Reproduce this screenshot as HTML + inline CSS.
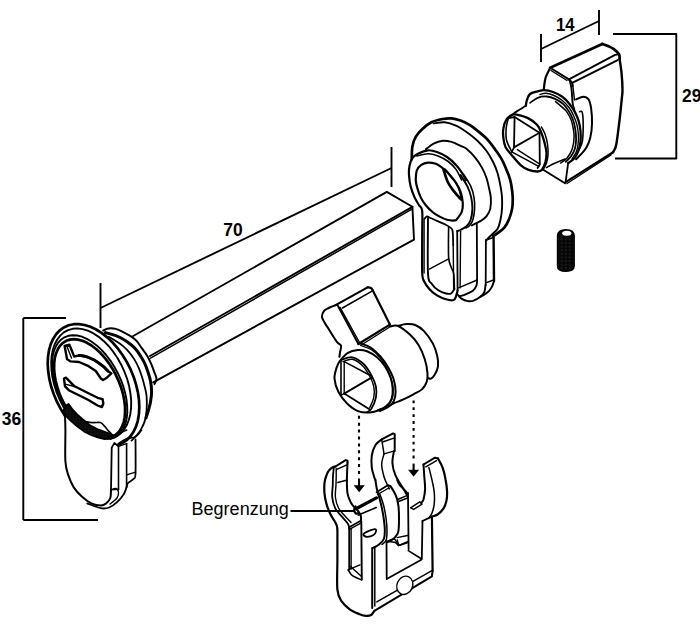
<!DOCTYPE html>
<html><head><meta charset="utf-8"><style>
html,body{margin:0;padding:0;background:#fff;width:700px;height:625px;overflow:hidden}
svg{display:block}
text{font-family:"Liberation Sans",sans-serif;fill:#000}
</style></head><body>
<svg width="700" height="625" viewBox="0 0 700 625">
<g fill="none" stroke="#000" stroke-linecap="round" stroke-linejoin="round">
<g stroke-width="1.3" stroke-linecap="butt">
<path d="M541,34 L541,62" stroke-width="1.9" fill="none"/>
<path d="M599,10 L599,35" stroke-width="1.9" fill="none"/>
<path d="M541,49 L599,21" stroke-width="1.9" fill="none"/>
<path d="M613,34 L676.3,34 L676.3,158.5 L615,158.5" stroke-width="1.9" fill="none"/>
<path d="M100.5,283 L100.5,328" stroke-width="1.9" fill="none"/>
<path d="M391.5,147 L391.5,187" stroke-width="1.9" fill="none"/>
<path d="M100.5,308 L391.5,168" stroke-width="1.9" fill="none"/>
<path d="M23.3,318 L66,318" stroke-width="1.9" fill="none"/>
<path d="M23.3,318 L23.3,520" stroke-width="1.9" fill="none"/>
<path d="M23.3,520 L98,520" stroke-width="1.9" fill="none"/>
<path d="M290.5,510.9 L354.5,510.9" stroke-width="2" fill="none"/>
</g>
<g stroke="none">
<text transform="translate(556,31) scale(0.93 1)" font-size="18" font-weight="bold">14</text>
<text transform="translate(682,101.6) scale(0.97 1)" font-size="18" font-weight="bold">29</text>
<text transform="translate(223.3,236) scale(0.97 1)" font-size="18" font-weight="bold">70</text>
<text transform="translate(1.8,425.3) scale(0.97 1)" font-size="18" font-weight="bold">36</text>
<text x="191.6" y="515" font-size="18">Begrenzung</text>
</g>
<path d="M133.2,336 L386.8,191.9 L412.4,206.8 L150,356" stroke-width="1.9" fill="none"/>
<path d="M150.5,358.2 L412.4,208.9" stroke-width="1.5" fill="none"/>
<path d="M412.4,206.8 L414,239.6 L153.2,382.3" stroke-width="1.9" fill="none"/>
<path d="M103.3,330.5 C104.2,330.1 106.4,328.7 108.5,328.4 C110.6,328.1 113.2,328.2 115.8,328.9 C118.4,329.6 121.5,331.3 124.1,332.6 C126.7,333.9 129.3,335.3 131.4,336.7 C133.5,338.1 134.9,339 136.6,340.9 C138.3,342.8 140.1,345.8 141.8,348.2 C143.5,350.6 145.4,352.8 147,355.4 C148.6,358 150,361 151.2,363.8 C152.4,366.6 153.4,369.6 154.3,372.1 C155.2,374.6 156.5,377 156.5,379 C156.5,381 154.8,383.2 154.5,384" stroke-width="2" fill="none"/>
<path d="M105.4,332.6 C107.1,333.1 112.7,334.5 115.8,335.7 C118.9,336.9 121.5,338.2 124.1,339.8 C126.7,341.4 129.3,343.3 131.4,345 C133.5,346.7 135,348.3 136.6,350.2 C138.2,352.1 139.4,354.2 140.8,356.5 C142.2,358.8 143.7,361.2 144.9,363.8 C146.1,366.4 147.1,369.2 148,372.1 C148.9,375 149.9,377.7 150.5,381 C151.1,384.3 151.6,388.5 151.6,392 C151.6,395.5 151,399 150.5,402 C150,405 149.2,407.3 148.5,410 C147.8,412.7 146.4,416.7 146,418" stroke-width="3" fill="none"/>
<path d="M108.5,336.7 C109.7,337.4 113.4,339.3 115.8,340.9 C118.2,342.5 120.8,344.2 123.1,346.1 C125.3,348 127.4,350.1 129.3,352.3 C131.2,354.6 132.9,357 134.5,359.6 C136.1,362.2 137.5,365.1 138.7,367.9 C139.9,370.7 140.8,373.2 141.8,376.2 C142.8,379.2 143.7,382.7 144.5,386 C145.3,389.3 146.2,391.9 146.6,396 C146.9,400.1 146.9,406.1 146.6,410.4 C146.2,414.7 145.6,418.5 144.5,421.9 C143.4,425.3 141.6,428.2 140.2,430.6 C138.8,433 137.2,434.6 135.8,436.3 C134.4,438 132.2,439.9 131.5,440.6" stroke-width="1.8" fill="none"/>
<path d="M65.1,416 L60.8,409.1 L57,401.9 L53.8,394.3 L51.2,386.7 L49.3,378.9 L48.2,371.3 L47.7,364 L48,356.9 L49,350.3 L50.7,344.2 L53.1,338.9 L56.1,334.2 L59.8,330.3 L63.9,327.4 L68.6,325.3 L73.7,324.2 L79,324.1 L84.6,325 L90.4,326.8 L96.2,329.5 L101.9,333.1 L107.5,337.6 L112.9,342.8 L118,348.7 L122.7,355.2 L126.9,362.1 L130.6,369.4 L133.7,377 L136.1,384.7 L137.9,392.4 L139,400 L139.3,407.3 L138.9,414.3 L137.8,420.8 L136,426.7 L133.4,432 L130.3,436.5 L126.6,440.2 L122.3,443 L117.6,444.9" stroke-width="2.7" fill="none"/>
<path d="M71.3,418.5 L66.9,412.5 L62.9,405.9 L59.4,399 L56.4,391.8 L54.1,384.4 L52.4,377.1 L51.5,369.8 L51.2,362.8 L51.6,356.2 L52.8,350 L54.6,344.5 L57.1,339.7 L60.2,335.6 L63.8,332.4 L68,330.1 L72.5,328.8 L77.4,328.4 L82.5,329.1 L87.8,330.7 L93.1,333.2 L98.4,336.6 L103.6,340.9 L108.6,346 L113.2,351.7 L117.5,358 L121.2,364.7 L124.5,371.8 L127.2,379.1 L129.2,386.5 L130.5,393.8 L131.2,400.9 L131.1,407.8 L130.3,414.2 L128.8,420 L126.7,425.3 L123.9,429.7 L120.6,433.4 L116.7,436.2 L112.3,438 L107.6,438.9" stroke-width="1.9" fill="none"/>
<path d="M74.1,420.5 L69.7,414.9 L65.7,408.9 L62.1,402.5 L59,395.8 L56.4,389 L54.4,382.1 L53,375.4 L52.2,368.8 L52.1,362.6 L52.6,356.8 L53.8,351.5 L55.6,346.8 L58,342.9 L61,339.7 L64.4,337.3 L68.3,335.8 L72.6,335.2 L77.1,335.5 L81.9,336.7 L86.8,338.8 L91.7,341.7 L96.7,345.4 L101.5,349.9 L106.1,355 L110.4,360.6 L114.3,366.7 L117.8,373.2 L120.9,379.9 L123.4,386.7 L125.3,393.6 L126.6,400.3 L127.2,406.8 L127.3,413 L126.6,418.7 L125.3,423.9 L123.4,428.4 L120.9,432.3 L117.9,435.3 L114.4,437.6 L110.4,438.9" stroke-width="1.9" fill="none"/>
<path d="M72.8,417.3 L68.9,411.9 L65.4,406.1 L62.2,400 L59.5,393.7 L57.4,387.4 L55.7,381 L54.6,374.8 L54.1,368.8 L54.2,363.2 L54.8,358 L56.1,353.2 L57.9,349.1 L60.2,345.6 L63,342.8 L66.2,340.8 L69.9,339.6 L73.8,339.2 L78,339.6 L82.4,340.8 L87,342.8 L91.5,345.5 L96.1,349 L100.5,353.1 L104.8,357.9 L108.8,363.1 L112.4,368.7 L115.7,374.7 L118.6,380.9 L121,387.2 L122.9,393.6 L124.2,399.9 L125,406 L125.1,411.8 L124.7,417.2 L123.7,422.1 L122.1,426.5 L120,430.3 L117.4,433.3 L114.3,435.7 L110.9,437.2" stroke-width="2.7" fill="none"/>
<path d="M64.6,345.8 L69.4,344.6 L74.2,356.6 L79,355.4 L86.2,356.6 L94.6,360.2 L103,366.2 L107.8,371 L111.4,373.4 L106.5,378 L103,380 L100.6,378.2 L95.8,371 L88.6,366.2 L79,362 L70.6,361.4 L67,359Z" stroke-width="2.4" fill="none"/>
<path d="M67,346.5 L71.5,358" stroke-width="1.4" fill="none"/>
<path d="M79,355.4 C80.2,355.6 83.6,355.8 86.2,356.6 C88.8,357.4 91.8,358.6 94.6,360.2 C97.4,361.8 100.8,364.4 103,366.2 C105.2,368 107,370.2 107.8,371" stroke-width="3" fill="none"/>
<path d="M64,378.6 L65.9,377.7 L74.6,386.3 L88,393 L97.6,397.8 L102.6,399.2 L103.3,403.5 L101.9,407.1 L97.6,405.5 L88,399.8 L78.4,395 L68.8,390.2 L65,386.3Z" stroke-width="2.4" fill="none"/>
<path d="M66,384.4 L74.6,386.5" stroke-width="1.4" fill="none"/>
<defs><pattern id="band" width="3" height="3" patternUnits="userSpaceOnUse"><rect width="3" height="3" fill="#222"/><rect x="0.6" y="0.6" width="1.2" height="1.2" fill="#8a8a8a"/></pattern></defs>
<path d="M66.9,404.9 L68.6,404 L72.9,410 L77.1,414.3 L82.3,419 L90,425.4 L98.6,429.7 L108,433.1 L112.3,435.2 L114.9,435.7 L111.4,438.3 L104.6,439.1 L97.7,437.4 L90.9,434.9 L84,431.4 L77.1,426.3 L70.3,420.3 L65.1,415.1 L63,411Z" stroke-width="1.8" fill="url(#band)"/>
<path d="M84,421.5 C85.4,421.7 89.9,422.4 92.6,422.6 C95.3,422.8 98.3,422 100.3,422.6 C102.3,423.2 103.2,424.8 104.6,426.3 C106,427.8 107.6,430 108.9,431.4 C110.2,432.8 111.7,434.3 112.3,434.9" stroke-width="1.6" fill="none"/>
<path d="M65,416.1 C65.1,418.4 65.3,422.5 65.4,430 C65.5,437.5 64.9,453.8 65.4,461.3 C65.9,468.8 66.8,470.6 68.2,474.9 C69.6,479.2 71.3,483.5 73.6,487.1 C75.9,490.7 78.8,493.9 81.8,496.6 C84.8,499.3 88.1,501.9 91.3,503.4 C94.5,504.9 98.3,505.5 100.8,505.5 C103.3,505.5 104.6,504.6 106.2,503.4 C107.8,502.1 109.5,500.3 110.3,498 C111.1,495.7 110.9,491.2 111,489.8" stroke-width="2" fill="none"/>
<path d="M111.7,447.7 L111,489.8" stroke-width="1.8" fill="none"/>
<path d="M111.7,447.7 L114.4,442.9 L118.5,446.3" stroke-width="1.6" fill="none"/>
<path d="M118.5,446.3 L118.5,489.8" stroke-width="1.6" fill="none"/>
<path d="M118.5,446.3 L126.6,443.6" stroke-width="1.4" fill="none"/>
<path d="M126.6,443.6 L126.6,487.1" stroke-width="1.6" fill="none"/>
<path d="M135.5,439.5 C135.5,445.2 135.8,466.9 135.5,473.5 C135.2,480.1 134.7,477.4 133.4,479 C132.2,480.6 129.1,481.6 128,483 C126.9,484.4 126.8,486.4 126.6,487.1" stroke-width="1.8" fill="none"/>
<path d="M126.6,474.9 L135.5,472.2" stroke-width="1.4" fill="none"/>
<path d="M111.7,489.8 L118.5,489.2" stroke-width="1.4" fill="none"/>
<path d="M87.2,503.4 C89.5,504.2 97.2,507.5 100.8,508.2 C104.4,508.9 106.3,508.5 109,507.5 C111.7,506.5 114.6,504.4 117.1,502.1 C119.6,499.8 122.3,496.4 123.9,493.9 C125.5,491.4 126.1,488.2 126.6,487.1" stroke-width="1.8" fill="none"/>
<path d="M111,489.8 C111.8,489.6 114.5,488.1 115.8,488.5 C117,488.9 118.3,490.4 118.5,492 C118.7,493.6 118.4,496 117,498 C115.6,500 111.2,503 110,504" stroke-width="1.4" fill="none"/>
<path d="M106.2,438.2 C107.6,437.7 111.9,436.3 114.4,435.4 C116.9,434.5 119.2,433.6 121.2,432.7 C123.2,431.8 125.7,430.4 126.6,430" stroke-width="1.6" fill="none"/>
<path d="M118.5,443.6 C119.4,443 122.4,440.9 124,440 C125.6,439.1 126.1,438.7 128,438.2 C129.9,437.7 133.2,438.2 135.5,436.8 C137.8,435.4 140.6,431.1 141.6,430" stroke-width="1.6" fill="none"/>
<path d="M411.8,159.3 C411.9,157.2 411.7,150.7 412.3,147 C412.9,143.3 414,139.9 415.7,136.9 C417.4,133.9 419.8,131.4 422.4,129 C425,126.6 428,124 431.4,122.3 C434.8,120.6 439.2,119.7 442.6,119 C446,118.3 448.5,118.1 451.5,118.4 C454.5,118.7 457.4,119.5 460.5,120.6 C463.6,121.7 467.2,123.4 470,125.1 C472.8,126.8 474.5,128.3 477.4,130.7 C480.3,133.1 484.5,136.4 487.5,139.6 C490.5,142.8 492.9,146.3 495.3,149.7 C497.7,153.1 500.1,156.4 502,159.8 C503.9,163.2 505.2,166.7 506.5,169.9 C507.8,173.1 509.1,176.1 509.9,178.8 C510.7,181.5 511,183.1 511.5,186.2 C512,189.3 512.6,193.7 512.7,197.4 C512.8,201.1 512.8,204.9 512.1,208.6 C511.5,212.3 510.1,216.6 508.8,219.8 C507.5,223 506.2,225.4 504.3,227.6 C502.4,229.8 499.5,231.8 497.6,233.2 C495.7,234.6 493.9,235.5 493.1,236" stroke-width="2.7" fill="none"/>
<path d="M433.6,123.4 C435.5,123.2 441.1,121.9 444.8,122.3 C448.5,122.7 452.4,124.1 456,125.7 C459.6,127.3 462.6,129.3 466.2,131.8 C469.8,134.3 474,137.6 477.4,140.8 C480.8,144 483.8,147.3 486.4,150.8 C489,154.3 491.2,158.3 493.1,162 C495,165.7 496.4,169.2 497.6,173.2 C498.8,177.2 499.8,182.2 500.5,186.2 C501.2,190.2 501.8,193.7 502,197.4 C502.2,201.1 502.2,204.9 502,208.6 C501.8,212.3 501.2,216.4 500.5,219.8 C499.8,223.2 499,226.4 497.6,228.8 C496.2,231.2 493.7,232.7 492,234.4 C490.3,236.1 488.5,237.7 487.5,238.8 C486.5,239.9 486.2,240.6 485.9,241" stroke-width="1.9" fill="none"/>
<path d="M425.8,149.2 C427.1,148.3 430.8,145 433.6,143.6 C436.4,142.2 439.6,141.1 442.6,140.8 C445.6,140.5 448.5,141.1 451.5,141.9 C454.5,142.7 458.1,144.7 460.5,145.8 C462.9,146.9 463.8,146.6 466.2,148.6 C468.6,150.6 472.6,154.4 475.2,157.6 C477.8,160.8 480,164.2 481.9,167.6 C483.8,170.9 485.3,174.6 486.4,177.7 C487.5,180.8 487.9,182.9 488.6,186.2 C489.3,189.5 490.5,193.7 490.8,197.4 C491.1,201.1 491,205.4 490.3,208.6 C489.6,211.8 488,214.3 486.4,216.4 C484.8,218.5 482.5,219.8 480.8,220.9 C479.1,222 477.8,222.4 476.3,223.2 C474.8,223.9 472.6,225 471.8,225.4" stroke-width="1.9" fill="none"/>
<path d="M466,180 C465.4,179 464.4,176.3 462.7,173.8 C461,171.3 458.6,167.7 456,164.9 C453.4,162.1 450.2,159.2 447,157 C443.8,154.8 440.2,153.1 437,152 C433.8,150.9 431.2,150 428,150.3 C424.8,150.6 420.5,152.4 417.9,153.7 C415.3,155 413.7,156.1 412.3,158.2 C410.9,160.2 410.1,163.2 409.5,166 C408.9,168.8 408.8,171.6 409,175 C409.2,178.4 409.7,182.5 410.6,186.2 C411.5,189.9 413.2,194.2 414.6,197.4 C416,200.6 417.7,202.9 419,205.2 C420.3,207.5 421.7,206 422.2,211 C422.7,216 422.2,224.8 422.2,235 C422.2,245.2 421.9,264.6 422.2,272.3 C422.5,280 422.9,278.5 424.1,281.3 C425.3,284.1 427.2,286.6 429.3,289 C431.4,291.4 434.2,293.7 437,295.4 C439.8,297.1 443.2,298.5 446,299.3 C448.8,300.1 452,300.6 453.7,300 C455.4,299.4 455.6,297 456.3,295.4 C457,293.8 457.4,291.1 457.6,290.3" stroke-width="2.2" fill="none"/>
<path d="M416.8,155.9 C418.7,155.5 424.4,153.7 428,153.7 C431.6,153.7 434.7,154.6 438.1,155.9 C441.5,157.2 445.2,159.2 448.2,161.5 C451.2,163.8 453.8,166.3 456,169.4 C458.2,172.5 460.7,178.2 461.6,180" stroke-width="1.6" fill="none"/>
<path d="M460.6,175 C461.7,176.9 465.5,182.5 467.3,186.2 C469.1,189.9 470.4,193.7 471.2,197.4 C472,201.1 472.5,204.9 472.4,208.6 C472.3,212.3 471.7,216.8 470.7,219.8 C469.7,222.8 468.1,224.7 466.2,226.5 C464.3,228.3 461,229.7 459.5,230.4 C458,231.2 457.6,230.9 457.2,231" stroke-width="1.9" fill="none"/>
<path d="M464,175 C465.1,176.9 469,182.5 470.7,186.2 C472.4,189.9 473.4,193.7 474,197.4 C474.6,201.1 474.8,204.9 474.6,208.6 C474.4,212.3 473.7,217 472.9,219.8 C472.1,222.6 470.8,224 469.6,225.4 C468.5,226.8 466.6,227.6 466,228" stroke-width="1.6" fill="none"/>
<path d="M415.7,180 C415.9,178.4 415.9,173 416.8,170.5 C417.7,168 419.4,166.2 421.3,164.9 C423.2,163.6 425.6,162.8 428,162.6 C430.4,162.4 433.6,163.1 435.8,163.8 C438,164.6 439.5,165.7 441.4,167.1 C443.3,168.5 445.3,170.3 447,172 C448.7,173.7 450,175.4 451.5,177.2 C453,179 454.5,180.4 456,182.8 C457.5,185.2 459.5,188.4 460.6,191.8 C461.7,195.2 462.6,199.6 462.8,203 C463,206.4 462.6,209.4 461.7,212 C460.8,214.6 458.3,217.3 457.2,218.7 C456.1,220.1 456.6,220.2 454.9,220.4 C453.2,220.6 449.6,220.5 447,219.8 C444.4,219.1 441.6,217.7 439.2,216.4 C436.8,215.1 434.7,213.9 432.5,212 C430.3,210.1 427.8,207.6 425.8,205.2 C423.8,202.8 422.2,200.6 420.7,197.4 C419.2,194.2 417.6,189.1 416.8,186.2 C416,183.3 415.9,181 415.7,180" stroke-width="2.2" fill="none"/>
<path d="M443.5,169.5 C443.8,170.6 444.8,173.8 445.5,176 C446.2,178.2 446.8,180.2 448,182.5 C449.2,184.8 450.9,187.3 452.6,189.6 C454.3,191.9 456.7,194.6 458.2,196.3 C459.7,198 460.9,199.1 461.4,199.6" stroke-width="2.7" fill="none"/>
<path d="M445,169 C445.7,169.8 447.5,171.7 449,173.5 C450.5,175.3 452.4,177.6 454,180 C455.6,182.4 457.3,184.8 458.5,188 C459.7,191.2 460.9,197.2 461.4,199" stroke-width="1.4" fill="none"/>
<path d="M424.6,218.7 C425,218.3 426,216.6 426.9,216.4 C427.8,216.2 428,216.8 429.7,217.6 C431.4,218.3 434.5,219.8 437,220.9 C439.5,222 442.6,223.2 444.8,224.3 C447,225.4 449.1,226.5 450.4,227.6 C451.7,228.7 452.1,228.1 452.6,231 C453.1,233.9 453.1,242.7 453.2,245" stroke-width="1.8" fill="none"/>
<path d="M424.1,219 L424.1,273" stroke-width="1.4" fill="none"/>
<path d="M428,218 C428,227.3 427.4,262.6 428,273.6 C428.6,284.6 430.2,281.1 431.9,283.9 C433.6,286.7 435.9,288.7 438.3,290.3 C440.7,291.9 443.9,293 446,293.5 C448.1,294 449.7,294.2 451.1,293.5 C452.5,292.8 453.8,289.8 454.4,289" stroke-width="1.9" fill="none"/>
<path d="M448.6,227 C448.6,232 448.2,250.2 448.6,256.9 C449,263.6 450.2,264.3 451.1,267.1 C452,269.9 453.1,270 453.7,273.6 C454.2,277.2 454.3,286.4 454.4,289" stroke-width="1.6" fill="none"/>
<path d="M453.2,245 L453.7,290" stroke-width="1.4" fill="none"/>
<path d="M457.2,231 L457.6,290.3" stroke-width="1.8" fill="none"/>
<path d="M460.6,231 L460.1,287.7" stroke-width="1.4" fill="none"/>
<path d="M429.3,269.1 L448.6,258.8" stroke-width="1.4" fill="none"/>
<path d="M476.8,223.2 L477.1,280" stroke-width="1.8" fill="none"/>
<path d="M477.1,280 L458.6,287.9" stroke-width="1.4" fill="none"/>
<path d="M477.1,280 C477,280.9 477.1,283.9 476.4,285.7 C475.7,287.5 474.7,289.3 472.9,290.7 C471.1,292.1 468,293.4 465.7,294.3 C463.4,295.2 460.4,296 459.3,296.4" stroke-width="1.9" fill="none"/>
<path d="M457.6,294.5 C458.2,295.2 459.7,297.5 461.4,298.6 C463.1,299.7 465.9,300.8 467.9,301.1 C469.9,301.5 471.6,301.4 473.6,300.7 C475.6,300 478.2,298.5 480,297.1 C481.8,295.7 483.4,294.1 484.3,292.1 C485.2,290.1 485.3,286.2 485.5,285" stroke-width="1.9" fill="none"/>
<path d="M485.9,240.1 L493.6,237.6" stroke-width="1.6" fill="none"/>
<path d="M485.9,240.1 L485.7,285" stroke-width="1.8" fill="none"/>
<path d="M493.6,237.6 L494,281" stroke-width="2.4" fill="none"/>
<path d="M494,281 C493.7,281.9 493,284.7 492.1,286.4 C491.2,288.1 490,290 488.6,291.4 C487.2,292.8 485,294.1 483.6,295 C482.2,295.9 481,296.5 480.5,296.8" stroke-width="1.9" fill="none"/>
<path d="M485.7,282.9 L493.5,280" stroke-width="1.4" fill="none"/>
<path d="M550.2,67.8 L602.3,44" stroke-width="2.7" fill="none"/>
<path d="M602.3,44 C603.2,44.3 606.1,45.1 608,46 C609.9,46.9 612.1,47.7 613.9,49.1 C615.7,50.5 618,52.7 619,54.3 C620,55.9 619.5,58 619.6,58.8" stroke-width="2.7" fill="none"/>
<path d="M568.9,79.4 L615.1,54.9 L619,54.3" stroke-width="1.9" fill="none"/>
<path d="M572.7,82.6 L617.7,60.1" stroke-width="1.9" fill="none"/>
<path d="M550.2,67.8 L568.9,79.4" stroke-width="1.9" fill="none"/>
<path d="M551,70.5 L567,80.5" stroke-width="1.4" fill="none"/>
<path d="M568.9,79.4 C569.3,79.8 570.9,80.9 571.5,82 C572.1,83.1 572.5,85.3 572.7,86" stroke-width="1.8" fill="none"/>
<path d="M619.6,58.8 C619.9,61.3 621.1,68.4 621.6,73.6 C622.1,78.8 622.5,86 622.5,90 C622.5,94 622.3,93.4 621.9,97.6 C621.5,101.8 620.8,108.8 620.1,115.2 C619.4,121.7 618.2,131 617.5,136.3 C616.8,141.6 616.4,144.2 615.7,146.9 C615,149.6 613.5,151.3 613.1,152.2" stroke-width="2.4" fill="none"/>
<path d="M613.1,152.2 L565.6,182.1" stroke-width="2.2" fill="none"/>
<path d="M611,155 L567,183.5" stroke-width="1.4" fill="none"/>
<path d="M550.2,67.8 C549.5,69.4 546.8,73.9 545.7,77.4 C544.6,80.9 544.1,87.1 543.8,89" stroke-width="2.2" fill="none"/>
<path d="M569.5,79.4 C569.8,80.5 570.6,84.1 571,86 C571.4,87.9 571.4,87.8 571.7,90.6 C572,93.4 572.2,99.7 572.6,102.9 C573,106.1 574.1,108.7 574.4,109.9" stroke-width="1.9" fill="none"/>
<path d="M572.7,84 L574.5,100" stroke-width="1.4" fill="none"/>
<path d="M576.1,99.4 C577.3,99 581.1,96.7 583.2,96.7 C585.3,96.7 587.2,97.5 588.5,99.4 C589.8,101.3 590.5,104.1 591.1,108.2 C591.7,112.3 592.1,119 592,124 C591.9,129 591.1,134.3 590.2,138.1 C589.3,141.9 588.2,144.3 586.7,146.9 C585.2,149.5 583.2,151.9 581.4,153.9 C579.6,155.9 577,158.3 576.1,159.2" stroke-width="2" fill="none"/>
<path d="M579.6,111.7 C580,111.8 581.7,110.2 582.3,112.6 C582.9,114.9 583.2,121 583.2,125.8 C583.2,130.6 583,137.6 582.3,141.6 C581.6,145.6 579.5,148.6 579,150" stroke-width="1.6" fill="none"/>
<path d="M525.8,105.8 C526,104.9 526.2,102.2 526.9,100.2 C527.6,98.2 528.2,95.5 530,94 C531.8,92.5 535.4,92.1 537.7,91.4 C540.1,90.8 541.6,90 544.1,90.1 C546.6,90.2 550,90.9 553,92 C556,93.1 559.2,94.5 562,96.5 C564.8,98.5 567.6,101.6 569.7,104.2 C571.8,106.8 573.3,109.1 574.8,111.9 C576.3,114.7 577.6,117.6 578.6,120.8 C579.6,124 580.2,127.6 580.5,131 C580.8,134.4 580.8,138.1 580.5,141.3 C580.2,144.5 579.6,147.4 578.6,150.2 C577.6,153 576.5,155.8 574.8,157.9 C573.1,160 569.5,162.2 568.4,163" stroke-width="2.3" fill="none"/>
<path d="M530,102.9 C531.3,102.1 534.9,98.9 537.7,97.8 C540.5,96.7 543.6,96.3 546.6,96.5 C549.6,96.7 552.8,97.8 555.6,99.1 C558.4,100.4 561.2,102.3 563.3,104.2 C565.4,106.1 566.8,108 568.4,110.6 C570,113.1 571.7,116.3 572.9,119.5 C574.1,122.7 574.9,126.4 575.4,129.8 C575.9,133.2 576.2,136.8 576.1,140 C576,143.2 575.7,146.2 574.8,149 C573.9,151.8 572.4,154.5 570.9,156.6 C569.4,158.7 566.6,160.9 565.8,161.8" stroke-width="1.8" fill="none"/>
<path d="M540,94.5 C541,94.3 543.7,93.1 546,93.3 C548.3,93.5 551.3,94.3 554,95.5 C556.7,96.7 559.5,98.3 562,100.3 C564.5,102.3 567.1,105 569,107.5 C570.9,110 572.2,112.6 573.5,115.5 C574.8,118.4 576.2,121.8 577,125 C577.8,128.2 578.2,131.7 578.4,135 C578.6,138.3 578.4,142.1 578,145 C577.6,147.9 577,150.2 576,152.5 C575,154.8 572.7,157.9 572,159" stroke-width="1.4" fill="none"/>
<path d="M555.6,101.6 C557.3,103.1 563.4,107.9 565.8,110.6 C568.2,113.2 568.9,115.4 570,117.5 C571.1,119.6 571.5,120.3 572.2,123.4 C572.9,126.5 574.1,131.9 574.1,136.2 C574.1,140.5 573.4,145.4 572.2,149 C571,152.6 569,155.6 567.1,157.9 C565.2,160.2 561.8,162.2 560.7,163" stroke-width="1.5" fill="none"/>
<path d="M525.8,105.8 C525.2,106.2 523.9,107.1 522.4,108 C520.9,108.9 518.5,110.3 516.8,111.4 C515.1,112.5 513,114.2 512.3,114.7" stroke-width="1.9" fill="none"/>
<path d="M543.2,169.8 L565,183.2" stroke-width="1.9" fill="none"/>
<path d="M546.5,167.6 C547.4,167.1 550.1,165.4 552,164.5 C553.9,163.6 555.5,162.9 557.7,162 C559.9,161.1 563.8,159.5 565,159" stroke-width="1.6" fill="none"/>
<path d="M568.2,162.7 L565.6,182.1" stroke-width="1.8" fill="none"/>
<path d="M512.3,114.7 C510.6,115.5 508.2,117 506.7,119.2 C505.2,121.5 503.9,125 503.4,128.2 C502.8,131.4 503,135 503.4,138.2 C503.8,141.4 504.2,144.4 505.6,147.2 C507,150 509.3,152.2 511.8,155.2 C514.3,158.2 518,162.9 520.8,165.3 C523.6,167.7 525.8,168.8 528.6,169.8 C531.4,170.8 535.4,171.5 537.6,171.5 C539.8,171.5 540.7,171.4 542,169.8 C543.3,168.2 544.6,164.8 545.4,162 C546.1,159.2 546.7,156.4 546.5,153 C546.3,149.6 545.2,145.4 544.3,141.8 C543.4,138.2 542.1,134.5 540.9,131.7 C539.7,128.9 539.1,127.1 537,124.8 C534.9,122.5 531.4,119.8 528,118.1 C524.6,116.4 519.4,115.3 516.8,114.7 C514.2,114.1 514,114 512.3,114.7Z" stroke-width="2.3" fill="none"/>
<path d="M541.5,127 C542.1,128.2 544,131.2 545,134 C546,136.8 547,140.5 547.5,144 C548,147.5 548.2,151.8 548,155 C547.8,158.2 547.3,160.5 546.5,163 C545.7,165.5 543.6,168.8 543,170" stroke-width="1.5" fill="none"/>
<path d="M508.4,118.1 L514.6,117 L539.5,132.7 L539.8,164.5 L537.6,168" stroke-width="1.8" fill="none"/>
<path d="M514.6,117 L514,147.4" stroke-width="1.8" fill="none"/>
<path d="M539.5,132.7 L514,147.4" stroke-width="1.8" fill="none"/>
<path d="M514,147.4 L511.8,151.9" stroke-width="1.6" fill="none"/>
<path d="M511.8,151.9 L538.7,166.4" stroke-width="1.6" fill="none"/>
<path d="M517.4,149.6 L539.8,164.2" stroke-width="1.4" fill="none"/>
<path d="M508.4,118.1 C508,119.8 506.5,124.3 506.2,128 C505.9,131.7 505.6,136 506.5,140 C507.4,144 510.9,149.9 511.8,151.9" stroke-width="1.6" fill="none"/>
<defs><pattern id="thr" width="4" height="3.6" patternUnits="userSpaceOnUse"><rect width="4" height="3.6" fill="#161616"/><rect x="0.8" y="1" width="2.2" height="1.5" fill="#b0b0b0"/></pattern></defs>
<path d="M557.5,236 Q557.5,230 566,229.8 Q574.2,230 574.2,236 L574.2,266 Q574,271.3 566,271.3 Q557.5,271.3 557.5,266 Z" fill="url(#thr)" stroke="#000" stroke-width="1.4"/>
<ellipse cx="566.8" cy="233.2" rx="4.6" ry="2.5" fill="#fff" stroke="none"/>
<path d="M398.5,325.8 C399.8,325.5 403.6,324.2 406.4,324.1 C409.2,324 412.3,323.8 415.2,325 C418.1,326.2 421.1,328 424,331.1 C426.9,334.2 430.6,339.3 432.8,343.4 C435,347.5 436.3,351.9 437.2,355.7 C438.1,359.5 438.4,363.1 438,366.3 C437.6,369.5 435.7,373.1 434.5,375.1 C433.3,377.2 432.1,378.1 431,378.6 C429.9,379.1 428.5,378.1 428,378" stroke-width="2" fill="none"/>
<path d="M389.7,326.7 C391,326.6 394.2,324.5 397.6,325.8 C401,327.1 406.4,331.4 409.9,334.6 C413.4,337.8 416.2,341.1 418.7,345.2 C421.2,349.3 423.3,354.5 424.8,359.2 C426.3,363.9 427.2,369.5 427.5,373.3 C427.8,377.1 427.5,379.5 426.6,382.1 C425.7,384.7 424.4,387.1 422.2,389.1 C420,391.2 416.6,392.6 413.4,394.4 C410.2,396.2 406.1,398.2 402.9,399.7 C399.7,401.2 397,401.9 394.1,403.2 C391.2,404.5 388,406.4 385.3,407.6 C382.6,408.8 379.1,409.9 377.8,410.4" stroke-width="2" fill="none"/>
<path d="M335.6,305.1 L367.6,287.4" stroke-width="2.2" fill="none"/>
<path d="M367.6,287.4 C368.2,287.5 370.1,287.5 371,288 C371.9,288.5 372.4,289.9 372.7,290.3" stroke-width="2.2" fill="none"/>
<path d="M372.7,290.3 L389.9,324.6" stroke-width="2.2" fill="none"/>
<path d="M389.9,324.6 L358.4,344" stroke-width="2.2" fill="none"/>
<path d="M389,327.5 L360.5,345.5" stroke-width="1.4" fill="none"/>
<path d="M342.4,308 L371.6,291.4" stroke-width="1.6" fill="none"/>
<path d="M337.9,305.7 L358.4,344" stroke-width="2" fill="none"/>
<path d="M340.2,307.5 L359.8,343" stroke-width="1.4" fill="none"/>
<path d="M335.6,305.1 C334.5,305.6 330.6,307 328.7,308 C326.8,309 325.2,309.5 324.1,310.9 C323,312.3 321.8,314.6 321.9,316.6 C322,318.7 323.9,321.1 325,323.2 C326.1,325.3 326.8,326 328.7,329.1 C330.6,332.2 334.6,338.9 336.7,341.7 C338.8,344.4 340.4,343.9 341,345.6 C341.6,347.3 340.4,350.1 340.1,352 C339.8,353.9 339.5,356 339.4,356.8" stroke-width="2" fill="none"/>
<path d="M359.4,343.2 C361.2,343.9 366.8,345.1 370.3,347.3 C373.8,349.5 377.4,353 380.4,356.4 C383.4,359.8 386,363.6 388.2,367.5 C390.4,371.4 392.6,375.7 393.8,379.8 C395,383.9 395.6,388.4 395.6,392 C395.6,395.6 394.8,399 393.6,401.5 C392.4,404 390.8,405.2 388.5,406.8 C386.2,408.4 381.4,410.3 380,411" stroke-width="2" fill="none"/>
<path d="M361.5,345.8 C363.1,346.4 367.9,347.6 371,349.5 C374.1,351.4 377.4,354.5 380,357.5 C382.6,360.5 384.6,363.8 386.5,367.5 C388.4,371.2 390.4,375.5 391.5,379.5 C392.6,383.5 393.3,388 393.3,391.5 C393.3,395 392.6,398.2 391.5,400.5 C390.4,402.8 387.3,404.7 386.5,405.5" stroke-width="1.2" fill="none"/>
<path d="M334.5,378.6 C334.2,374.5 335.8,370.4 336.7,367.4 C337.6,364.4 338.2,363.1 340.1,360.7 C342,358.3 344.9,354.6 347.9,352.8 C350.9,351 354.8,350.3 358,350 C361.2,349.7 363.8,350 367,351.2 C370.2,352.4 374,354.8 377,357.3 C380,359.8 382.6,362.9 384.9,366.3 C387.1,369.7 389.2,373.8 390.5,377.5 C391.8,381.2 392.5,385.1 392.7,388.7 C392.9,392.2 392.5,396 391.6,398.8 C390.7,401.6 389.2,403.6 387.1,405.5 C385.1,407.4 382.2,408.8 379.3,410 C376.4,411.2 373.6,412.3 370,412.5 C366.4,412.7 361.9,412.7 358,411.1 C354.1,409.6 350.1,406.4 346.8,403.2 C343.6,400 340.6,396.1 338.5,392 C336.4,387.9 334.8,382.7 334.5,378.6Z" stroke-width="2" fill="none"/>
<path d="M341,360 C342.9,359.6 348.6,356.6 352.4,357.3 C356.2,358 360.4,361 363.6,364 C366.8,367 369.3,371.5 371.4,375.2 C373.4,378.9 375.1,382.7 375.9,386.4 C376.6,390.1 376.6,393.9 375.9,397.6 C375.1,401.3 372.9,406.4 371.4,408.8 C369.9,411.2 367.7,411.6 367,412.2" stroke-width="1.8" fill="none"/>
<path d="M343,361.5 C344.6,361.1 349.2,358.6 352.4,359.3 C355.6,360 359.4,362.7 362.3,365.5 C365.2,368.3 367.7,372.5 369.6,376 C371.5,379.5 373.1,383 373.8,386.6 C374.5,390.2 374.5,393.9 373.8,397.4 C373.1,400.9 370.5,405.9 369.8,407.6" stroke-width="1.4" fill="none"/>
<path d="M344.2,361.6 L371.4,376" stroke-width="1.6" fill="none"/>
<path d="M341,360 L341,395.2" stroke-width="1.6" fill="none"/>
<path d="M344.2,361.6 L344.2,393.6" stroke-width="1.4" fill="none"/>
<path d="M371.4,377.6 L344.2,393.6" stroke-width="1.8" fill="none"/>
<path d="M344.2,393.6 L369.8,409.6" stroke-width="1.8" fill="none"/>
<path d="M341,395.2 L344.2,393.6" stroke-width="1.4" fill="none"/>
<g stroke-width="2.1" stroke-linecap="butt">
<path d="M359,415.8 V475" stroke-dasharray="3 3.9"/>
<path d="M359,478.5 V486"/>
<path d="M413.6,400.4 V460" stroke-dasharray="2.8 4.1"/>
<path d="M413.6,463.6 V470.5"/>
</g>
<path d="M353.6,485.2 L364.8,485.2 L359.2,492.2Z M408.1,469.8 L419.1,469.8 L413.6,476.8Z" fill="#000" stroke="none"/>
<path d="M335.4,466.5 C335,466.6 333.9,466.6 332.8,467.2 C331.7,467.8 330.1,469 329,470.4 C327.9,471.8 327.1,473.4 326.4,475.5 C325.6,477.6 324.8,480.1 324.5,483.1 C324.2,486.1 324.2,490 324.5,493.4 C324.8,496.8 325.4,500.2 326.4,503.6 C327.3,507 328.8,510.8 330.2,513.8 C331.6,516.8 333.6,519.3 334.8,521.6 C336,523.9 336.8,524.5 337.2,527.6 C337.6,530.7 337.4,534.6 337.4,540 C337.4,545.4 337.4,551.7 337.4,560 C337.4,568.3 336.7,582.8 337.4,589.6 C338.1,596.5 339.4,597.8 341.5,601.1 C343.6,604.4 346.7,607.1 349.7,609.3 C352.7,611.5 356.9,613.1 359.6,614.2 C362.3,615.3 364.2,615.8 366.1,615.9 C368,616 369.7,615.8 371.1,615 C372.5,614.2 373.8,611.6 374.4,610.9" stroke-width="2.2" fill="none"/>
<path d="M335.4,466.5 L345.6,460.1 L347.5,460.8 L347.5,462.7" stroke-width="2" fill="none"/>
<path d="M337.3,469.1 L347.5,464.6" stroke-width="1.5" fill="none"/>
<path d="M337.9,482.5 L347.2,480" stroke-width="1.5" fill="none"/>
<path d="M347.5,462.7 C347.4,465.7 346.9,475.5 346.9,480.6 C346.9,485.7 346.9,489.8 347.5,493.4 C348.1,497 349.5,499.9 350.7,502.3 C351.9,504.7 353.2,506 354.5,507.5 C355.8,509 357.3,509.8 358.4,511.3 C359.5,512.8 360.5,514.7 360.9,516.4 C361.3,518.1 360.9,520.6 360.9,521.5" stroke-width="2" fill="none"/>
<path d="M333.8,467.5 C333.7,468.9 333.2,473.2 333,476 C332.8,478.8 332.9,480.9 332.8,484.4 C332.7,487.9 331.8,493.1 332.2,497.2 C332.6,501.2 333.8,505.5 335.4,508.7 C337,511.9 339.6,513.8 341.7,516.4 C343.8,519 346.8,522 348.1,524.1 C349.4,526.2 349.2,528.4 349.4,529.2" stroke-width="1.8" fill="none"/>
<path d="M336.2,468.5 C336.2,469.8 336.2,473.4 336.2,476 C336.2,478.6 336.1,480.9 336,484.4 C335.9,487.9 335,493.3 335.4,497.2 C335.8,501.1 337,504.9 338.5,508 C340,511.1 342.4,513.1 344.5,515.5 C346.6,517.9 349.9,521.3 351,522.5" stroke-width="1.4" fill="none"/>
<path d="M349.2,527.2 L360.7,520.8" stroke-width="1.8" fill="none"/>
<path d="M349.8,529.2 L361.3,522.8" stroke-width="1.4" fill="none"/>
<path d="M349.2,527.2 L349.2,569.6" stroke-width="1.8" fill="none"/>
<path d="M351.1,529 L351.1,569" stroke-width="1.4" fill="none"/>
<path d="M361.3,521.5 L361.8,579.7" stroke-width="1.9" fill="none"/>
<path d="M348.6,569.6 L360,564.8" stroke-width="1.4" fill="none"/>
<path d="M348.1,569.9 C348.7,570.7 350.1,573.5 351.4,574.8 C352.7,576.1 354.4,576.7 356,577.5 C357.6,578.3 360.3,579.3 361.2,579.7" stroke-width="1.6" fill="none"/>
<path d="M350.5,566.5 L361,576" stroke-width="1.4" fill="none"/>
<path d="M381.7,439.4 L393.1,433.4 L394.7,434.1 L394.7,450.9" stroke-width="2" fill="none"/>
<path d="M383.2,441.7 L394.7,437.9" stroke-width="1.5" fill="none"/>
<path d="M381.7,439.4 L384,453.9" stroke-width="1.5" fill="none"/>
<path d="M384,453.9 L394.7,450.9" stroke-width="1.4" fill="none"/>
<path d="M381.7,439.4 C380.7,440.3 377.2,442.1 375.6,444.8 C374,447.5 372.4,451.6 371.8,455.4 C371.2,459.2 371.4,464.1 371.8,467.6 C372.2,471.2 373.5,474.6 374.1,476.7 C374.7,478.8 375.2,479.4 375.4,480" stroke-width="2" fill="none"/>
<path d="M394,450.9 C393.7,452.9 392.2,458.9 392.4,463 C392.6,467.1 393.9,471.4 395.4,475.2 C396.9,479 399.7,482.8 401.5,485.8 C403.3,488.8 405.1,491.6 406.1,493.4 C407.1,495.2 407.4,496 407.6,496.5" stroke-width="2" fill="none"/>
<path d="M384,453.9 C383.6,455.7 381.7,460.7 381.7,464.5 C381.7,468.3 383,473.1 384,476.7 C385,480.2 386.9,483.8 387.8,485.8 C388.7,487.8 389.1,488.4 389.3,488.9" stroke-width="1.5" fill="none"/>
<path d="M376.6,492.2 L388.1,485.1 L390.7,486.4" stroke-width="1.8" fill="none"/>
<path d="M377.5,494.5 L388.8,488" stroke-width="1.4" fill="none"/>
<path d="M375.4,480 C375.6,481.3 376.2,485.6 376.6,487.7 C377,489.8 377.1,489.9 377.9,492.8 C378.7,495.7 380.3,501 381.2,505 C382.1,509 382.9,512.9 383.5,517 C384.1,521.1 384.8,526.1 384.8,529.8 C384.9,533.5 384.8,536.5 383.8,539 C382.8,541.5 380.7,543 379,544.5 C377.3,546 374.4,547.2 373.5,547.7" stroke-width="2" fill="none"/>
<path d="M379.5,493.5 C380.2,495.4 382.4,500.9 383.5,505 C384.6,509.1 385.4,513.8 386,518 C386.6,522.2 387,526.3 387,530 C387,533.7 387,537.7 386.2,540.1 C385.4,542.5 382.7,543.8 382,544.5" stroke-width="1.5" fill="none"/>
<path d="M390.7,486.4 C391.6,487.9 394.5,492.2 395.8,495.4 C397.1,498.6 397.9,501.8 398.4,505.6 C398.9,509.4 399,514.1 399,518.4 C399,522.7 398.9,528.2 398.4,531.2 C397.9,534.2 396.6,535 395.8,536.3 C395,537.6 394.6,537.9 393.3,538.8 C392,539.6 389,541 388.1,541.4" stroke-width="2" fill="none"/>
<path d="M397.1,480 C397.5,480.9 398.2,483.2 399.7,485.1 C401.2,487 404.8,490 406.1,491.5 C407.4,493 407.1,493.7 407.3,494.1" stroke-width="1.8" fill="none"/>
<path d="M398.4,499.2 L407.3,495.4" stroke-width="1.5" fill="none"/>
<path d="M398.6,501.5 L407.5,498" stroke-width="1.4" fill="none"/>
<path d="M408,492.8 L408.6,549.1" stroke-width="1.8" fill="none"/>
<path d="M386.9,541.4 L394.5,538.8 L397.1,542.7 L399.7,545.2 L407.3,542.7" stroke-width="1.5" fill="none"/>
<path d="M397.1,537.6 L407.5,535.5" stroke-width="1.4" fill="none"/>
<path d="M423.5,464.5 L435,457.7 L438,458.5" stroke-width="2" fill="none"/>
<path d="M425.8,466.8 L436.5,460.7" stroke-width="1.5" fill="none"/>
<path d="M423.5,464.5 C423.6,466.5 424,472.6 424.3,476.7 C424.6,480.8 425.2,485.1 425.1,488.9 C425,492.7 424.1,497.2 423.5,499.5 C422.9,501.8 421.7,502.1 421.3,502.6" stroke-width="2" fill="none"/>
<path d="M428.9,467.6 C429.4,469.6 431,475.6 431.9,479.7 C432.8,483.8 433.8,487.8 434.2,491.9 C434.6,496 434.6,500.6 434.2,504.1 C433.8,507.7 432.8,510.9 431.9,513.2 C431,515.5 429.4,517 428.9,517.8" stroke-width="1.5" fill="none"/>
<path d="M438,458.5 C438.8,460 441.3,464.1 442.6,467.6 C443.9,471.1 444.9,475.6 445.6,479.7 C446.4,483.8 447,488.3 447.1,491.9 C447.2,495.4 447,498.2 446.4,501 C445.8,503.8 444.9,506.4 443.4,508.7 C441.9,510.9 439.5,513.2 437.6,514.5 C435.7,515.8 432.8,516.2 431.9,516.6" stroke-width="2.2" fill="none"/>
<path d="M410.6,507.9 L419.7,501.8 L422,504.1 L413.7,509.4 L410.6,507.9" stroke-width="1.5" fill="none"/>
<path d="M356.5,508.5 L376.4,497.8" stroke-width="3.2" fill="none"/>
<path d="M358.4,515.1 L376.3,507.5" stroke-width="1.6" fill="none"/>
<path d="M355.5,506.5 C355.3,507.1 354.1,508.8 354.2,510 C354.3,511.2 355.3,513 356,513.5 C356.7,514 358.1,513.1 358.5,513" stroke-width="2.2" fill="none"/>
<path d="M431.9,516.6 L422.5,521" stroke-width="1.8" fill="none"/>
<path d="M422.5,521 L421.8,559.1" stroke-width="1.8" fill="none"/>
<path d="M431.9,516.6 L432.6,570.7" stroke-width="2.2" fill="none"/>
<path d="M372.2,548 L372.2,608" stroke-width="2" fill="none"/>
<path d="M374.8,547 L374.8,606" stroke-width="1.5" fill="none"/>
<path d="M386.5,541.4 L386.7,578.1" stroke-width="1.8" fill="none"/>
<path d="M386.7,542.5 L389.6,541.5 L395.4,542.5 L398.6,545.6 L408,541.5" stroke-width="1.5" fill="none"/>
<path d="M397.3,540 L398.6,545.6" stroke-width="1.4" fill="none"/>
<path d="M408.3,550.6 L421.3,558.8" stroke-width="1.6" fill="none"/>
<path d="M386.7,579 L421.3,559.8" stroke-width="1.8" fill="none"/>
<path d="M374.4,610.9 L431.9,576.4 L432.6,570.7" stroke-width="2" fill="none"/>
<path d="M376.8,601.9 L431.9,570.7" stroke-width="1.5" fill="none"/>
<ellipse cx="404.8" cy="585.3" rx="7.8" ry="9.4" transform="rotate(25 404.8 585.3)" fill="#fff" stroke-width="1.4"/>
<path d="M363.9,533.6 C364.6,532.9 366.6,531.9 368.4,531.1 C370.2,530.4 373.5,529.1 374.8,529.1 C376.1,529.1 376.3,530.1 376.1,531.1 C375.9,532.1 375,534 373.5,534.9 C372,535.8 368.7,536.7 367.1,536.8 C365.5,536.9 364.4,536 363.9,535.5 C363.4,535 363.1,534.3 363.9,533.6Z" stroke-width="1.8" fill="none"/>
</g>
</svg>
</body></html>
